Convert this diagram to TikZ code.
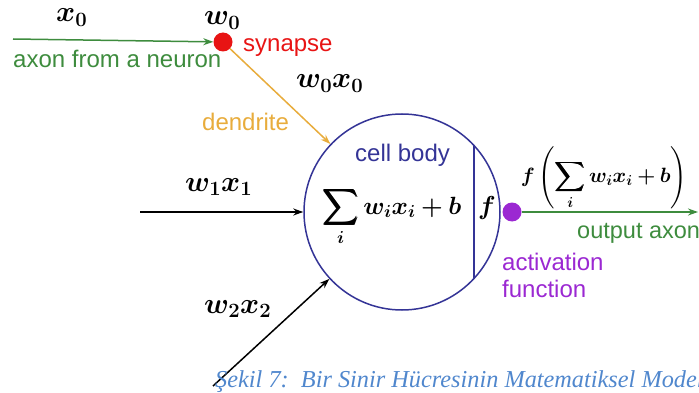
\RequirePackage{fix-cm}
\documentclass[tikz,border=0pt]{standalone}
\usepackage{amsmath}
\usepackage{bm}
\usepackage{fontspec}
\setsansfont{Liberation Sans}
\newfontfamily\capfont{Liberation Serif}
\usetikzlibrary{arrows.meta,positioning}
\definecolor{axongreen}{RGB}{62,140,62}
\definecolor{synred}{RGB}{232,20,20}
\definecolor{dendorange}{RGB}{232,172,60}
\definecolor{bodyblue}{RGB}{52,52,150}
\definecolor{actpurple}{RGB}{155,40,210}
\definecolor{capblue}{RGB}{80,135,205}
\begin{document}
\begin{tikzpicture}[
  x=1pt, y=-1pt,
  >={Stealth[length=10pt,width=7pt]},
  label/.style={font=\sffamily\fontsize{24}{27}\selectfont, inner sep=0pt, anchor=base west},
  mathlbl/.style={font=\fontsize{29}{32}\selectfont, inner sep=0pt, anchor=base west},
  dot/.style={circle, inner sep=0pt, minimum size=19pt},
  cell/.style={circle, draw=bodyblue, line width=1.5pt, minimum size=196pt, inner sep=0pt},
  wire/.style={->, line width=1.5pt}
]
\useasboundingbox (0,0) rectangle (699,393);
% cell body
\node[cell] (body) at (402,212) {};
\draw[bodyblue, line width=1.5pt] (body.43.6) -- (body.-43.6);
\node[label, text=bodyblue] (cb) at (355,162) {cell body};
\node[mathlbl, font=\fontsize{24.9}{28}\selectfont] (sum) at (322,214) {$\bm{\displaystyle\sum_i w_i x_i + b}$};
\node[mathlbl, anchor=base, font=\fontsize{26}{29}\selectfont] (fn) at (487,214) {$\bm{f}$};
% synapse and incoming axon
\node[dot, fill=synred] (syn) at (223,42) {};
\coordinate (axin) at (13,39);
\draw[wire, axongreen] (axin) -- (syn);
\node[mathlbl] (x0) at (56,22) {$\bm{x_0}$};
\node[mathlbl] (w0) at (204,25) {$\bm{w_0}$};
\node[label, text=axongreen] (axlbl) at (13,68) {axon from a neuron};
\node[label, text=synred] (synlbl) at (243,52) {synapse};
\node[mathlbl] (w0x0) at (296,88) {$\bm{w_0x_0}$};
\node[label, text=dendorange] (dend) at (202,131) {dendrite};
\draw[wire, dendorange] (syn) -- (body);
% other inputs
\coordinate (in1) at (140,212);
\draw[wire] (in1) -- (body);
\node[mathlbl] (w1x1) at (185,191) {$\bm{w_1x_1}$};
\coordinate (in2) at (213,386);
\draw[wire] (in2) -- (body);
\node[mathlbl] (w2x2) at (204,313) {$\bm{w_2x_2}$};
% activation and output
\node[dot, fill=actpurple] (act) at (512,212) {};
\coordinate (out) at (698,212);
\draw[wire, axongreen] (act) -- (out);
\node[font=\fontsize{20.7}{24}\selectfont, inner sep=0pt] (fout) at (604,178)
  {$\bm{f\left(\displaystyle\sum_i w_i x_i + b\right)}$};
\node[label, text=axongreen, font=\sffamily\fontsize{23.5}{27}\selectfont] (outlbl) at (577,238) {output axon};
\node[label, text=actpurple] (actlbl) at (502,270) {activation};
\node[label, text=actpurple] (actlbl2) at (502,297) {function};
% caption
\node[text=capblue, anchor=base west, inner sep=0pt, font=\capfont\itshape\fontsize{24.3}{28}\selectfont] (cap) at (215,387)
  {Şekil 7:\ \ Bir Sinir Hücresinin Matematiksel Modeli};
\end{tikzpicture}
\end{document}
